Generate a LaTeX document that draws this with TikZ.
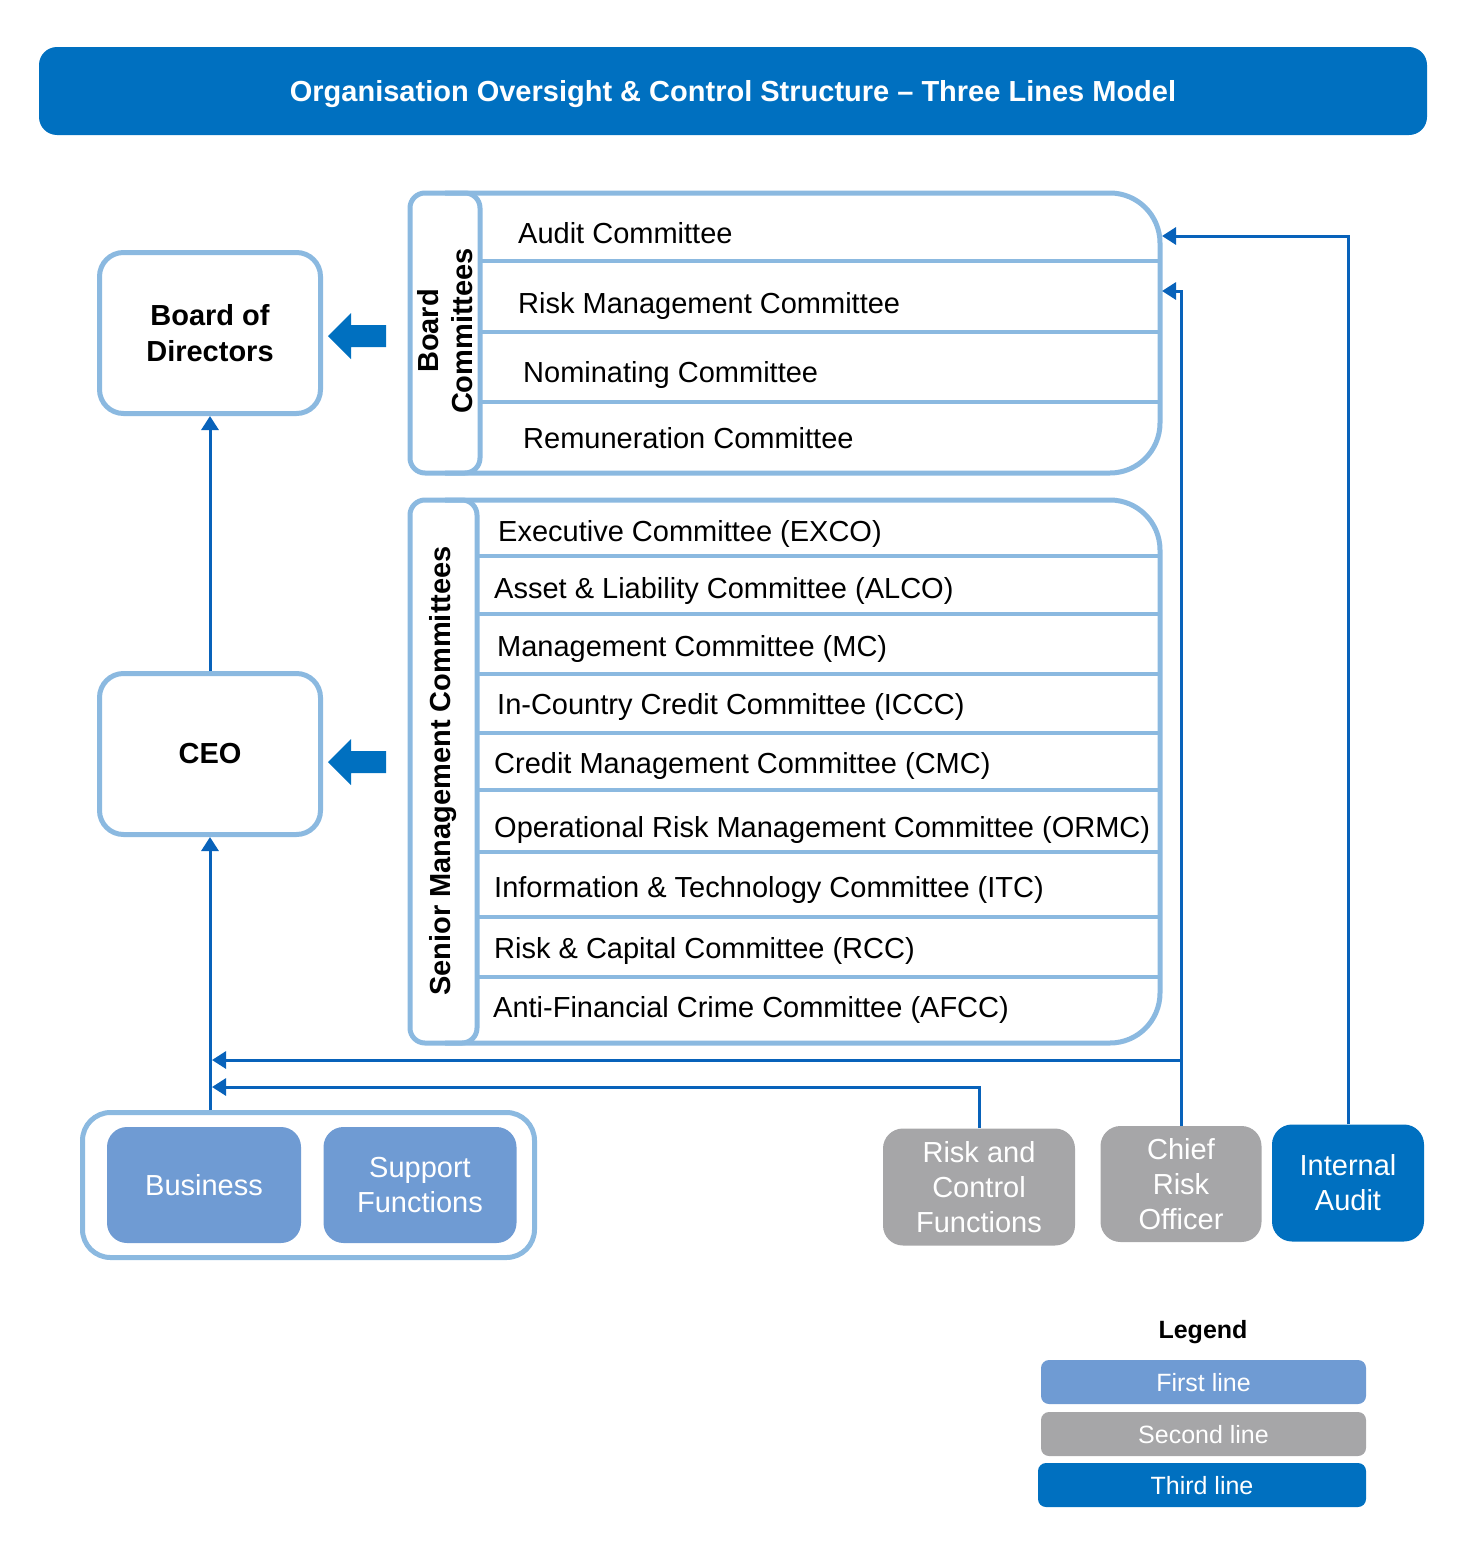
\documentclass[tikz,border=0pt]{standalone}
\usepackage{fontspec}
\setmainfont{Liberation Sans}
\usetikzlibrary{arrows.meta}

\definecolor{mainblue}{RGB}{0,112,192}
\definecolor{linkblue}{RGB}{8,98,186}
\definecolor{edgeblue}{RGB}{139,185,224}
\definecolor{firstblue}{RGB}{111,155,211}
\definecolor{secondgray}{RGB}{166,166,168}

\newcommand{\bigtext}{\fontsize{29}{35}\selectfont}
\newcommand{\legtext}{\fontsize{25}{30}\selectfont}

\begin{document}
\begin{tikzpicture}[x=1pt, y=-1pt]
    \useasboundingbox (0,0) rectangle (1467,1547);

    \tikzset{
        headbar/.style  = {fill=mainblue, rounded corners=18pt, minimum width=1388pt,
                           minimum height=88pt, text=white, font=\bfseries\bigtext,
                           text height=20.8pt, text depth=0pt},
        topbox/.style   = {draw=edgeblue, line width=5pt, rounded corners=24pt,
                           minimum width=221pt, minimum height=161pt, align=center,
                           font=\bfseries\fontsize{29}{36}\selectfont},
        panel/.style    = {draw=edgeblue, line width=5pt},
        rowline/.style  = {draw=edgeblue, line width=4pt},
        rowtext/.style  = {anchor=base west, inner sep=0pt, font=\bigtext},
        sidetext/.style = {rotate=90, align=center, font=\bfseries\fontsize{29}{34}\selectfont},
        linebox/.style  = {rounded corners=20pt, text=white, align=center,
                           font=\fontsize{29}{35}\selectfont},
        first/.style    = {linebox, fill=firstblue},
        second/.style   = {linebox, fill=secondgray},
        third/.style    = {linebox, fill=mainblue},
        legbox/.style   = {rounded corners=8pt, text=white, minimum height=44pt,
                           font=\legtext, text height=18pt, text depth=0pt},
        link/.style     = {draw=linkblue, line width=3pt,
                           -{Triangle[length=14pt, width=17pt]}},
        blockarrow/.style = {fill=mainblue}
    }

    % title
    \node[headbar] (title) at (733,91)
        {Organisation Oversight \& Control Structure -- Three Lines Model};

    % board and CEO
    \node[topbox] (board) at (210,333) {Board of\\Directors};
    \node[topbox] (ceo)   at (210,754) {CEO};

    \foreach \y in {336,762}
        \fill[blockarrow] (386,\y-11) -- (351,\y-11) -- (351,\y-23) -- (328,\y)
            -- (351,\y+23) -- (351,\y+11) -- (386,\y+11) -- cycle;

    % board committees
    \draw[panel, rounded corners=50pt] (445,193) -- (1160,193) -- (1160,473) -- (445,473);
    \draw[panel, rounded corners=15pt] (410,193) rectangle (480,473);
    \foreach \y in {261,332,402}
        \draw[rowline] (480,\y) -- (1160,\y);
    \node[sidetext] (bclabel) at (445,331) {Board\\Committees};
    \foreach \x/\y/\txt [count=\i] in {518/243/Audit Committee,
                                       518/313/Risk Management Committee,
                                       523/382/Nominating Committee,
                                       523/448/Remuneration Committee}
        \node[rowtext] (bc\i) at (\x,\y) {\txt};

    % senior management committees
    \draw[panel, rounded corners=50pt] (445,500) -- (1160,500) -- (1160,1043) -- (445,1043);
    \draw[panel, rounded corners=15pt] (410,500) rectangle (477,1043);
    \foreach \y in {556,614,674,733,790,852,917,977}
        \draw[rowline] (477,\y) -- (1160,\y);
    \node[sidetext] (smlabel) at (443,771) {Senior Management Committees};
    \foreach \x/\y/\txt [count=\i] in {498/541/Executive Committee (EXCO),
                                       494/598/Asset \& Liability Committee (ALCO),
                                       497/656/Management Committee (MC),
                                       497/714/In-Country Credit Committee (ICCC),
                                       494/773/Credit Management Committee (CMC),
                                       494/837/Operational Risk Management Committee (ORMC),
                                       494/897/Information \& Technology Committee (ITC),
                                       494/958/Risk \& Capital Committee (RCC),
                                       493/1017/Anti-Financial Crime Committee (AFCC)}
        \node[rowtext] (sm\i) at (\x,\y) {\txt};

    % three lines
    \node[panel, rounded corners=28pt, minimum width=452pt, minimum height=145pt]
        (firstgrp) at (308.5,1185) {};
    \node[first, minimum width=194pt, minimum height=116pt] (business) at (204,1185) {Business};
    \node[first, minimum width=193pt, minimum height=116pt] (support)  at (420,1185) {Support\\Functions};
    \node[second, minimum width=192pt, minimum height=117pt] (rcf) at (979,1187)
        {Risk and\\Control\\Functions};
    \node[second, minimum width=161pt, minimum height=116pt] (cro) at (1181,1184)
        {Chief\\Risk\\Officer};
    \node[third, minimum width=152pt, minimum height=117pt] (ia) at (1348,1183)
        {Internal\\Audit};

    % reporting lines
    \coordinate (auditin) at (1162,236);
    \coordinate (rmcin)   at (1162,291);
    \coordinate (ceoin1)  at (212,1060);
    \coordinate (ceoin2)  at (212,1087);

    \draw[link] (ceo.north) -- (board.south);
    \draw[link] (firstgrp.north -| ceo.south) -- (ceo.south);
    \draw[link] (ia.north)  |- (auditin);
    \draw[link] (cro.north) |- (rmcin);
    \draw[link] (cro.north) |- (ceoin1);
    \draw[link] (rcf.north) |- (ceoin2);

    % legend
    \node[font=\bfseries\legtext] (legend) at (1203,1332) {Legend};
    \node[legbox, fill=firstblue,  minimum width=325pt] (leg1) at (1203.5,1382) {First line};
    \node[legbox, fill=secondgray, minimum width=325pt] (leg2) at (1203.5,1434) {Second line};
    \node[legbox, fill=mainblue,   minimum width=328pt] (leg3) at (1202,1485)   {Third line};
\end{tikzpicture}
\end{document}
